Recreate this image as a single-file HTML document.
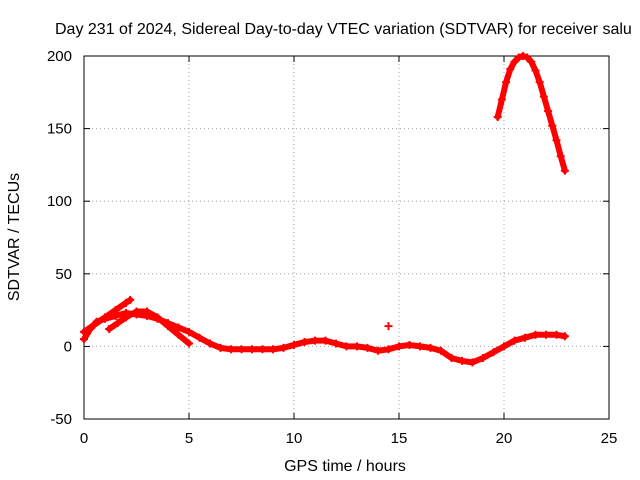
<!DOCTYPE html>
<html><head><meta charset="utf-8"><style>
html,body{margin:0;padding:0;background:#fff;}
svg{display:block;font-family:"Liberation Sans",sans-serif;}
</style></head><body>
<svg id="chart" width="640" height="480" viewBox="0 0 640 480">
<text x="55" y="34" font-size="16" fill="#000">Day 231 of 2024, Sidereal Day-to-day VTEC variation (SDTVAR) for receiver salu</text>
<g id="grid"></g>
<g id="axes"></g>
<g id="marks"></g>
<text x="345" y="471" font-size="16" text-anchor="middle">GPS time / hours</text>
<text transform="translate(19,237) rotate(-90)" font-size="16" text-anchor="middle">SDTVAR / TECUs</text>
</svg>
<script>
const xTicks=[0,5,10,15,20,25];
const yTicks=[-50,0,50,100,150,200];
const arcX=[19.7,19.9,20.1,20.3,20.5,20.7,20.9,21.1,21.3,21.5,21.7,21.9,22.1,22.3,22.5,22.7,22.9];
const arcY=[158,170,182,191,196,199,200,199,196,190,182,172,162,152,142,131,121];
const mainX=[0,0.3,0.6,1,1.5,2,2.5,3,3.5,4,4.5,5,5.5,6,6.5,7,7.5,8,8.5,9,9.5,10,10.5,11,11.5,12,12.5,13,13.5,14,14.5,15,15.5,16,16.5,17,17.5,18,18.5,19,19.5,20,20.5,21,21.5,22,22.5,22.9];
const mainY=[5,12,17,19,21,23,22,21,19,16,13,10,6,2,-1,-2,-2,-2,-2,-2,-1,1,3,4,4,2,0,0,-1,-3,-2,0,1,0,-1,-3,-8,-10,-11,-8,-4,0,4,6,8,8,8,7];
const branch1X=[0,0.5,1,1.5,2,2.2];
const branch1Y=[10,15,20,25,30,32];
const branch2X=[1.2,1.6,2,2.5,3,3.5,4,4.5,5];
const branch2Y=[12,16,20,24,24,20,14,8,2];
const outlierX=[14.5];
const outlierY=[14];

const L=84,R=609,T=56,B=419;
const xs=v=>L+(v-0)/(25-0)*(R-L);
const ys=v=>B-(v+50)/(250)*(B-T);
const NS="http://www.w3.org/2000/svg";
function mk(tag,attrs,parent){const e=document.createElementNS(NS,tag);for(const k in attrs)e.setAttribute(k,attrs[k]);parent.appendChild(e);return e;}
const grid=document.getElementById('grid'),axes=document.getElementById('axes'),marks=document.getElementById('marks');
xTicks.forEach(t=>{const x=xs(t);
 if(t>0&&t<25){const g=mk('line',{x1:x,y1:T,x2:x,y2:B,stroke:'#a0a0a0','stroke-dasharray':'1,3'},grid);}
 const a=mk('line',{x1:x,y1:B,x2:x,y2:B-6,stroke:'#000'},axes);
 const b=mk('line',{x1:x,y1:T,x2:x,y2:T+6,stroke:'#000'},axes);
 const tx=mk('text',{x:x,y:B+24,'font-size':15,'text-anchor':'middle'},axes);tx.textContent=t;});
yTicks.forEach(t=>{const y=ys(t);
 if(t>-50&&t<200){const g=mk('line',{x1:L,y1:y,x2:R,y2:y,stroke:'#a0a0a0','stroke-dasharray':'1,3'},grid);}
 const a=mk('line',{x1:L,y1:y,x2:L+6,y2:y,stroke:'#000'},axes);
 const b=mk('line',{x1:R,y1:y,x2:R-6,y2:y,stroke:'#000'},axes);
 const tx=mk('text',{x:L-12,y:y+5,'font-size':15,'text-anchor':'end'},axes);tx.textContent=t;});
const fr=mk('rect',{x:L,y:T,width:R-L,height:B-T,fill:'none',stroke:'#000'},axes);


function series(X,Y,name){
 const g=mk('g',{},marks);
 
 
 if(X.length>1){const p=mk('polyline',{points:X.map((x,i)=>xs(x)+','+ys(Y[i])).join(' '),fill:'none',stroke:'#f00','stroke-width':6,'stroke-linejoin':'round','stroke-linecap':'round'},g);
  
  }
 X.forEach((x,i)=>{const cx=xs(x),cy=ys(Y[i]);
  const m=mk('path',{d:`M${cx-4},${cy}H${cx+4}M${cx},${cy-4}V${cy+4}`,stroke:'#f00','stroke-width':2},g);
  
  });
}
series(arcX,arcY,'arc-series');
series(mainX,mainY,'main-series');
series(branch1X,branch1Y,'branch1-series');
series(branch2X,branch2Y,'branch2-series');
series(outlierX,outlierY,'outlier-point');
</script>
</body></html>
